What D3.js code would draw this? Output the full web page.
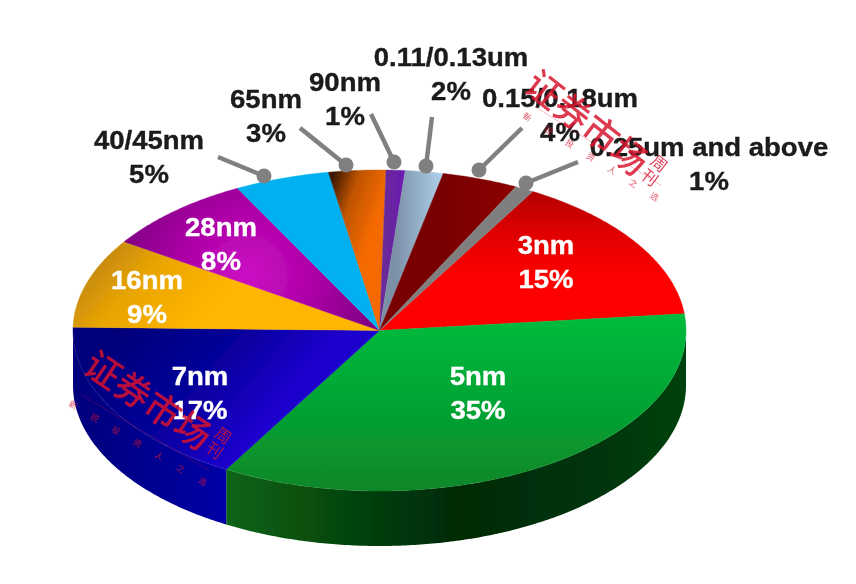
<!DOCTYPE html>
<html><head><meta charset="utf-8">
<script src="https://cdn.jsdelivr.net/npm/d3@7/dist/d3.min.js"></script>
<style>html,body{margin:0;padding:0;background:#fff}svg{display:block}</style>
</head><body><svg id="c" width="856" height="584"></svg>
<script>
// ---- data ----
const categories = ["3nm","5nm","7nm","16nm","28nm","40/45nm","65nm","90nm","0.11/0.13um","0.15/0.18um","0.25um and above"];
const shares = [15,35,17,9,8,5,3,1,2,4,1];

// ---- layout & style, separate from the data ----
const W=856,H=584;
const depth=55, startDeg=30;
const sx=d3.scaleLinear().domain([-1,1]).range([73,686]);
const sy=d3.scaleLinear().domain([-1,1]).range([170,491]);
const colors=[
 {t:"l",p:[520,190,520,300],s:[[0,"#b00000"],[.35,"#dc0000"],[.8,"#ff0000"],[1,"#ff0000"]]},
 {t:"l",p:[450,318,450,492],s:[[0,"#00ba3c"],[.5,"#04a434"],[1,"#0c8628"]]},
 {t:"l",p:[110,340,240,450],s:[[0,"#00007a"],[.55,"#06009a"],[1,"#1c00cc"]]},
 {t:"l",p:[85,235,190,330],s:[[0,"#b07a10"],[.5,"#e8a404"],[1,"#ffb600"]]},
 {t:"r",p:[248,275,135],s:[[0,"#cc10c4"],[.5,"#ac00a6"],[1,"#7c0080"]]},
 {t:"l",p:[0,0,1,0],s:[[0,"#00b0f0"],[1,"#00b0f0"]]},
 {t:"l",p:[332,178,384,196],s:[[0,"#3c1800"],[.45,"#c05400"],[1,"#f46a00"]]},
 {t:"l",p:[385,0,405,0],s:[[0,"#6a2a98"],[1,"#6c18b4"]]},
 {t:"l",p:[395,0,442,0],s:[[0,"#7c90a8"],[1,"#aed0ea"]]},
 {t:"l",p:[445,0,520,0],s:[[0,"#780000"],[1,"#8e0000"]]},
 {t:"l",p:[0,0,1,0],s:[[0,"#7f7f7f"],[1,"#7f7f7f"]]}
];
const walls={
 1:[[0,"#0a6416"],[.25,"#06460c"],[.5,"#022a06"],[.8,"#033408"],[1,"#04420a"]],
 2:[[0,"#00007c"],[1,"#0600a6"]]
};
const leaders=[null,null,null,null,null,
 [218,157,264,176],[300,128,346,165],[371,114,394,162],[432,117,426,166],[522,128,479,170],[578,162,526,183]];
const labels=[
 [546,254,"#fff"],[478,385,"#fff"],[200,385,"#fff"],[147,289,"#fff"],[221,236,"#fff"],
 [149,149,"#1a1a1a"],[266,108,"#1a1a1a"],[345,91,"#1a1a1a"],[451,66,"#1a1a1a"],[560,107,"#1a1a1a"],[709,156,"#1a1a1a"]];

const svg=d3.select("#c");
const defs=svg.append("defs");
defs.append("filter").attr("id","soft").attr("filterUnits","userSpaceOnUse")
 .attr("x",0).attr("y",0).attr("width",W).attr("height",H)
 .append("feGaussianBlur").attr("stdDeviation",0.75);
function grad(id,c){
 const g=c.t==="r"?defs.append("radialGradient").attr("id",id).attr("gradientUnits","userSpaceOnUse").attr("cx",c.p[0]).attr("cy",c.p[1]).attr("r",c.p[2])
  :defs.append("linearGradient").attr("id",id).attr("gradientUnits","userSpaceOnUse").attr("x1",c.p[0]).attr("y1",c.p[1]).attr("x2",c.p[2]).attr("y2",c.p[3]);
 c.s.forEach(s=>g.append("stop").attr("offset",s[0]).attr("stop-color",s[1]));
}
colors.forEach((c,i)=>grad("g"+i,c));

const rad=d=>d*Math.PI/180;
const pie=d3.pie().sort(null).startAngle(rad(startDeg)).endAngle(rad(startDeg+360));
const arcs=pie(shares);
const line=d3.line();
const ring=(a0,a1)=>{const n=Math.max(2,Math.ceil((a1-a0)/0.01));
 return d3.range(n+1).map(i=>{const a=a0+(a1-a0)*i/n;return [sx(Math.sin(a)),sy(-Math.cos(a))];});};

const root=svg.append("g").attr("filter","url(#soft)");

// side wall
const wallG=root.append("g");
arcs.forEach((d,i)=>{
 if(!walls[i])return;
 const a0=Math.max(d.startAngle,Math.PI/2), a1=Math.min(d.endAngle,Math.PI*1.5);
 const top=ring(a0,a1), bot=top.map(p=>[p[0],p[1]+depth]).reverse();
 const xs=top.map(p=>p[0]);
 grad("w"+i,{t:"l",p:[d3.min(xs),0,d3.max(xs),0],s:walls[i]});
 wallG.append("path").attr("d",line(top.concat(bot))+"Z").attr("fill",`url(#w${i})`);
});
// top face
root.append("g").selectAll("path").data(arcs).join("path")
 .attr("d",d=>line([[sx(0),sy(0)]].concat(ring(d.startAngle,d.endAngle)))+"Z")
 .attr("fill",(d,i)=>`url(#g${i})`)
 .attr("stroke",(d,i)=>`url(#g${i})`).attr("stroke-width",0.4);

// leaders
const lg=root.append("g");
leaders.forEach(l=>{ if(!l)return;
 lg.append("line").attr("x1",l[0]).attr("y1",l[1]).attr("x2",l[2]).attr("y2",l[3]).attr("stroke","#808080").attr("stroke-width",4.5);
 lg.append("circle").attr("cx",l[2]).attr("cy",l[3]).attr("r",7.5).attr("fill","#808080");
});
// labels
const tg=root.append("g").attr("font-family","'Liberation Sans',Arial,sans-serif").attr("font-weight","bold").attr("font-size",25.5).attr("text-anchor","middle");
categories.forEach((c,i)=>{
 const [x,y,f]=labels[i];
 const g=tg.append("g").attr("transform",`translate(${x},${y}) scale(1.08,1)`).attr("fill",f).attr("stroke",f).attr("stroke-width",0.35);
 g.append("text").text(c);
 g.append("text").attr("y",34).text(shares[i]+"%");
});
// watermarks
function mark(x,y,ang,subX,subY,subAng){
 const g=root.append("g").attr("transform",`translate(${x},${y}) rotate(${ang})`).attr("fill","#d8152f").attr("font-family","'Noto Sans CJK SC',sans-serif");
 g.append("text").attr("font-size",36).attr("font-weight",500).attr("opacity",.85).text("证券市场");
 g.append("text").attr("x",146).attr("y",-20).attr("font-size",16).attr("opacity",.8).text("周");
 g.append("text").attr("x",147).attr("y",-3).attr("font-size",16).attr("opacity",.8).text("刊");
 const s=root.append("g").attr("transform",`translate(${x+subX},${y+subY}) rotate(${subAng})`).attr("fill","#d8152f").attr("font-family","'Noto Sans CJK SC',sans-serif");
 s.append("line").attr("x1",2).attr("y1",-13).attr("x2",150).attr("y2",-13).attr("stroke","#d8152f").attr("stroke-width",.7).attr("opacity",.35);
 s.selectAll(".s").data("新锐投资人之选".split("")).join("text").attr("class","s").attr("x",(d,i)=>-4+i*25).attr("y",3).attr("font-size",8.5).attr("opacity",.75).text(d=>d);
}
mark(522,89,38,5,28,32);
mark(81,371,34,-8,34,30.6);
</script></body></html>
